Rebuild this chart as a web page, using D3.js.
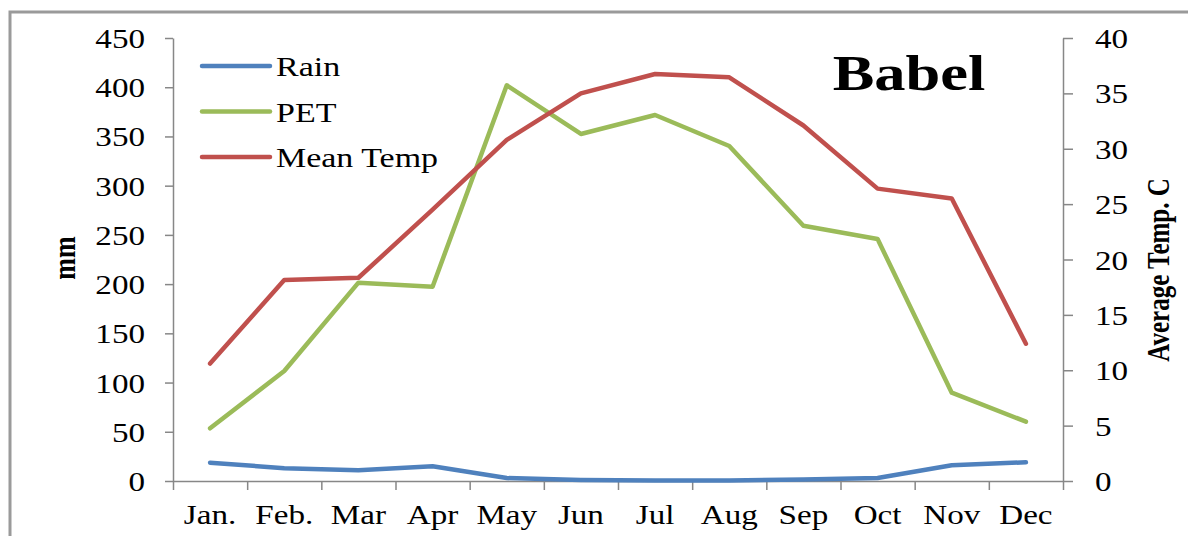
<!DOCTYPE html>
<html>
<head>
<meta charset="utf-8">
<script src="https://cdn.jsdelivr.net/npm/d3@7"></script>
<style>
  html, body { margin: 0; padding: 0; background: #fff; }
  svg { display: block; }
  text { font-family: "Liberation Serif", "Times New Roman", serif; fill: #000; }
</style>
</head>
<body>
<svg id="chart" width="1203" height="536"></svg>
<script>
// Monthly climate values for Babel
const months = ["Jan.", "Feb.", "Mar", "Apr", "May", "Jun", "Jul", "Aug", "Sep", "Oct", "Nov", "Dec"];
const rain = [18.6, 13, 11, 15, 3, 1, 0.5, 0.5, 1.5, 3, 16, 19];
const pet = [53.5, 111.7, 201.5, 197.4, 402, 352.5, 371.8, 340.3, 259.3, 245.8, 89.7, 60.3];
const meanTemp = [10.6, 18.15, 18.35, 24.5, 30.8, 35.0, 36.75, 36.45, 32.1, 26.4, 25.5, 12.4];
const mmTicks = [0, 50, 100, 150, 200, 250, 300, 350, 400, 450];
const tempTicks = [0, 5, 10, 15, 20, 25, 30, 35, 40];
const seriesNames = ["Rain", "PET", "Mean Temp"];
const seriesColors = ["#4F81BD", "#9BBB59", "#C0504D"];

const svg = d3.select("#chart");
const SX = 1.25; // horizontal text stretch
const plotL = 173, plotR = 1063, plotT = 38, plotB = 481;
const axisColor = "#878787";

// outer frame (top and left edges)
svg.append("path")
  .attr("d", `M10,536 L10,12 L1188,12`)
  .attr("fill", "none").attr("stroke", "#9a9a9a").attr("stroke-width", 3);

const xBand = d3.scaleBand().domain(months).range([plotL, plotR]);
const xPos = m => xBand(m) + xBand.bandwidth() / 2;
const xIdx = d3.scaleLinear().domain([0, 12]).range([plotL, plotR]);
const yL = d3.scaleLinear().domain([0, 450]).range([plotB, plotT]);
const yR = d3.scaleLinear().domain([0, 40]).range([plotB, plotT]);

function styleAxis(g) {
  g.select(".domain").attr("stroke", axisColor).attr("stroke-width", 1.5);
  g.selectAll(".tick line").attr("stroke", axisColor).attr("stroke-width", 1.5);
}

// left axis
const gL = svg.append("g").attr("transform", `translate(${plotL},0)`)
  .call(d3.axisLeft(yL).tickValues(mmTicks).tickSize(8).tickSizeOuter(0).tickPadding(0));
styleAxis(gL);
gL.selectAll(".tick text")
  .attr("font-size", 26.5).attr("fill", "#000")
  .attr("transform", `scale(${SX},1)`).attr("x", -28 / SX).attr("dy", "0.36em");

// right axis
const gR = svg.append("g").attr("transform", `translate(${plotR},0)`)
  .call(d3.axisRight(yR).tickValues(tempTicks).tickSize(10).tickSizeOuter(0).tickPadding(0));
styleAxis(gR);
gR.selectAll(".tick text")
  .attr("font-size", 26.5).attr("fill", "#000").attr("text-anchor", "start")
  .attr("transform", `scale(${SX},1)`).attr("x", 32 / SX).attr("dy", "0.36em");

// bottom axis: boundary ticks + category labels
const gB = svg.append("g").attr("transform", `translate(0,${plotB})`)
  .call(d3.axisBottom(xIdx).tickValues(d3.range(13)).tickFormat("").tickSize(9).tickSizeOuter(0));
styleAxis(gB);
const gBL = svg.append("g").attr("transform", `translate(0,${plotB})`)
  .call(d3.axisBottom(xBand).tickSize(0).tickPadding(0));
gBL.select(".domain").remove();
gBL.selectAll(".tick text")
  .attr("font-size", 26.5).attr("fill", "#000")
  .attr("transform", `scale(${SX},1)`).attr("y", 43).attr("dy", 0);

// lines
const lineL = d3.line().x((d, i) => xPos(months[i])).y(d => yL(d));
const lineR = d3.line().x((d, i) => xPos(months[i])).y(d => yR(d));
const lines = [
  { data: rain, gen: lineL, color: seriesColors[0] },
  { data: pet, gen: lineL, color: seriesColors[1] },
  { data: meanTemp, gen: lineR, color: seriesColors[2] }
];
lines.forEach(s => {
  svg.append("path").attr("d", s.gen(s.data))
    .attr("fill", "none").attr("stroke", s.color).attr("stroke-width", 4.5)
    .attr("stroke-linejoin", "round").attr("stroke-linecap", "round");
});

// legend
const legend = svg.append("g");
seriesNames.forEach((name, i) => {
  const y = 66 + i * 45.5;
  legend.append("line").attr("x1", 202).attr("x2", 270).attr("y1", y).attr("y2", y)
    .attr("stroke", seriesColors[i]).attr("stroke-width", 4.5).attr("stroke-linecap", "round");
  legend.append("text").attr("transform", `translate(276,${y + 10}) scale(${SX},1)`)
    .attr("font-size", 27.2).text(name);
});

// title
svg.append("text").attr("transform", `translate(909,90) scale(${SX},1)`)
  .attr("text-anchor", "middle").attr("font-size", 50).attr("font-weight", "bold").text("Babel");

// axis titles
svg.append("text").attr("transform", `translate(75,258) scale(${SX},1) rotate(-90)`)
  .attr("text-anchor", "middle").attr("font-size", 26).attr("font-weight", "bold").text("mm");
svg.append("text").attr("transform", `translate(1169,270) scale(${SX},1) rotate(-90)`)
  .attr("text-anchor", "middle").attr("font-size", 25).attr("font-weight", "bold").text("Average Temp. C");
</script>
</body>
</html>
